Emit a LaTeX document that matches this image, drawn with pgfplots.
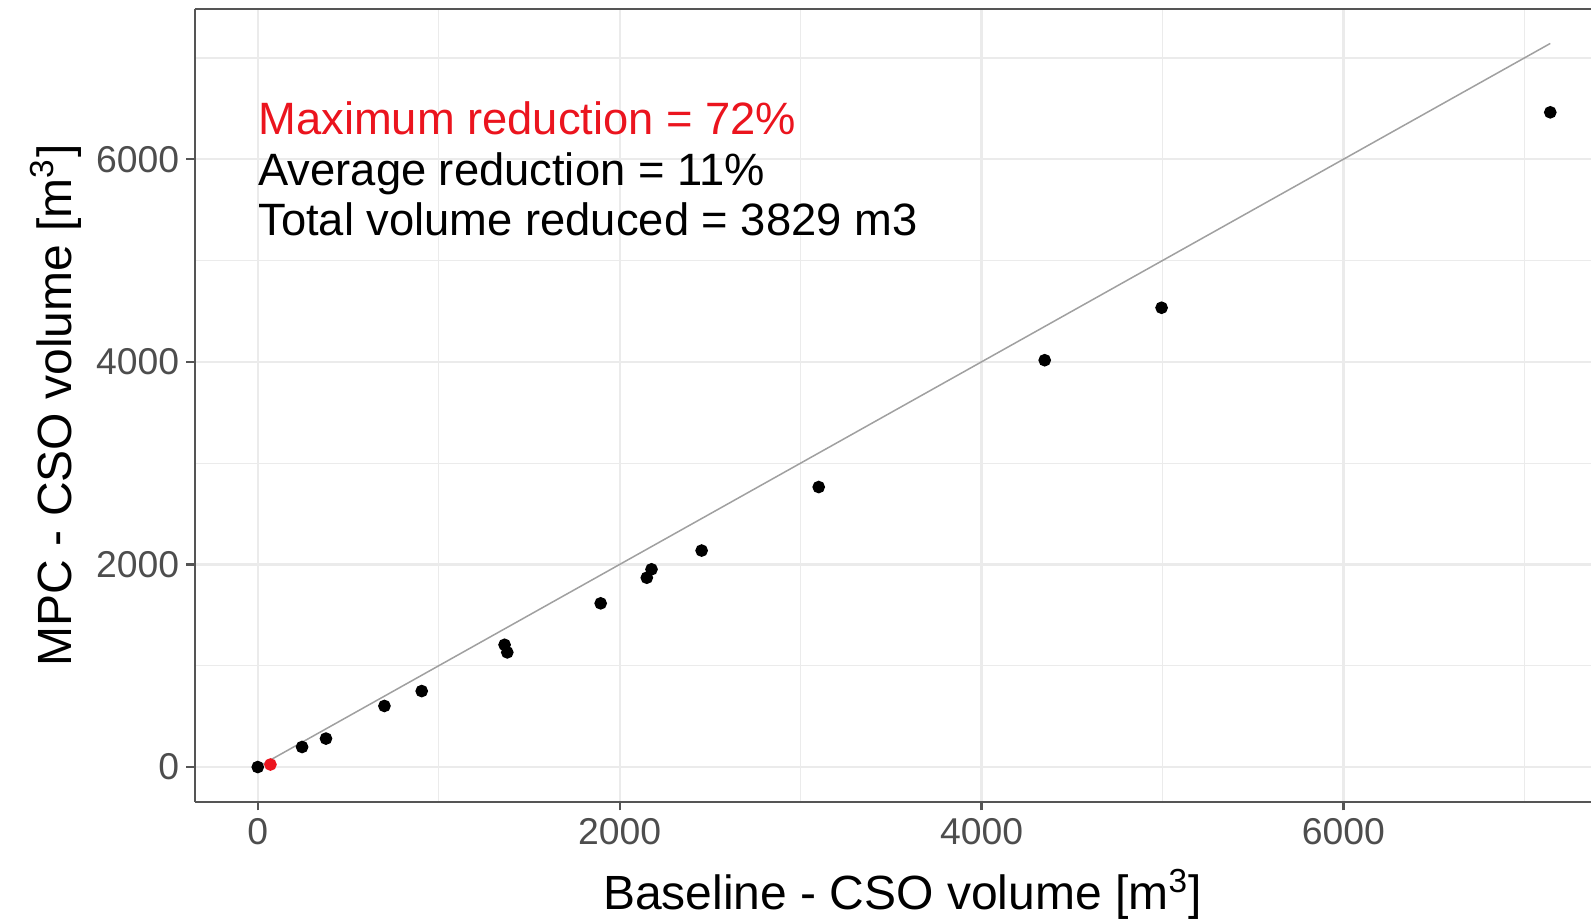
\documentclass[border=0pt]{standalone}
\usepackage{fontspec}
\setmainfont{Liberation Sans}
\usepackage{pgfplots}
\pgfplotsset{compat=1.18}
\definecolor{gridc}{RGB}{235,235,235}
\definecolor{axc}{RGB}{85,85,85}
\definecolor{tickc}{RGB}{77,77,77}
\definecolor{linec}{RGB}{160,160,160}
\definecolor{redc}{RGB}{235,20,30}
\begin{document}
\begin{tikzpicture}
\begin{axis}[
  name=ax, at={(0,0)}, anchor=south west,
  scale only axis, width=418.86pt, height=237.75pt,
  xmin=-348, xmax=7368, ymin=-341, ymax=7482,
  axis x line=box, axis y line=left,
  axis line style={-, axc, line width=0.65pt},
  xtick={0,2000,4000,6000}, ytick={0,2000,4000,6000},
  minor xtick={1000,3000,5000,7000}, minor ytick={1000,3000,5000,7000},
  xtick pos=left, ytick pos=left,
  grid=both,
  major grid style={gridc, line width=0.7pt},
  minor grid style={gridc, line width=0.35pt},
  minor tick length=0pt,
  major tick length=2.6pt,
  tick align=outside,
  tick style={axc, line width=0.65pt},
  /pgf/number format/assume math mode=true,
  /pgf/number format/set thousands separator={},
  ticklabel style={font=\fontsize{11.2}{13}\selectfont, text=tickc},
  xticklabel style={anchor=north, inner sep=0pt, yshift=-2.3pt},
  yticklabel style={anchor=east, inner sep=0pt, xshift=-1.9pt},
  xlabel={Baseline - CSO volume [m\textsuperscript{3}]},
  ylabel={MPC - CSO volume [m\textsuperscript{3}]},
  label style={font=\fontsize{14.4}{17}\selectfont},
  xlabel style={at={(axis description cs:0.507,-0.1366)}, anchor=base, inner sep=0pt},
  ylabel style={at={(axis description cs:-0.0886,0.5)}, anchor=base, inner sep=0pt},
]
\addplot[linec, line width=0.45pt, no marks] coordinates {(0,0) (7143,7143)};
\addplot[only marks, mark=*, mark size=1.7pt, black] coordinates {
(0,0) (245,198) (377,281) (700,603) (906,750) (1364,1207) (1379,1132)
(1895,1616) (2150,1869) (2176,1952) (2453,2137) (3100,2764)
(4349,4016) (4995,4534) (7143,6463)
};
\addplot[only marks, mark=*, mark size=1.7pt, redc] coordinates {(70,25)};
\node[anchor=base west, inner sep=0pt, text=redc, font=\fontsize{13.6}{16}\selectfont] at (axis cs:0,6240) {Maximum reduction = 72\%};
\node[anchor=base west, inner sep=0pt, font=\fontsize{13.6}{16}\selectfont] at (axis cs:0,5739) {Average reduction = 11\%};
\node[anchor=base west, inner sep=0pt, font=\fontsize{13.6}{16}\selectfont] at (axis cs:0,5249) {Total volume reduced = 3829 m3};
\end{axis}
\pgfresetboundingbox
\path[use as bounding box] ([xshift=-58.44pt,yshift=-35.22pt]ax.south west) rectangle ([yshift=2.73pt]ax.north east);
\end{tikzpicture}
\end{document}
